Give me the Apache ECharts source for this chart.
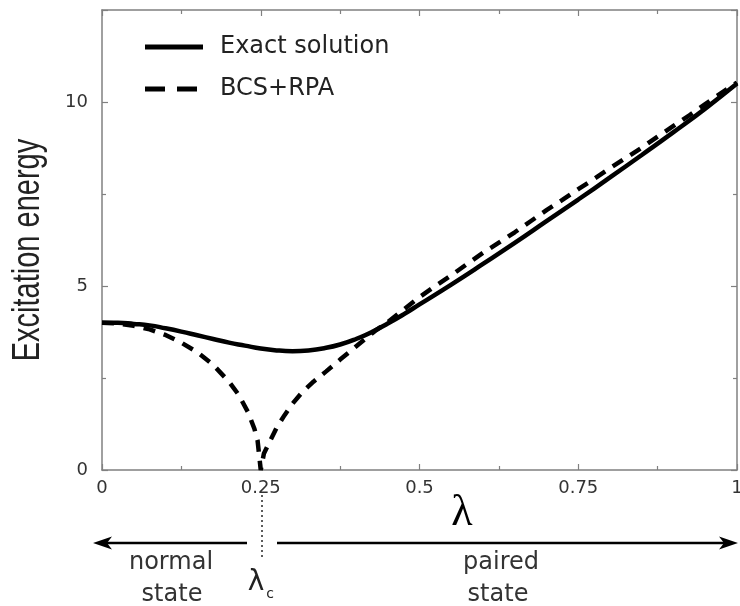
<!DOCTYPE html>
<html><head><meta charset="utf-8">
<script src="https://cdn.jsdelivr.net/npm/echarts@6/dist/echarts.min.js"></script>
<style>html,body{margin:0;padding:0;background:#fff;overflow:hidden}#c{width:740px;height:606px}</style>
</head><body><div id="c"></div>
<script>
// ---- data ----
const lambdaExact = [0,0.025,0.05,0.075,0.1,0.125,0.15,0.175,0.2,0.225,0.25,0.275,0.3,0.325,0.35,0.375,0.4,0.425,0.45,0.475,0.5,0.55,0.6,0.65,0.7,0.75,0.8,0.85,0.9,0.95,1.0];
const exactValues = [4.00,4.00,3.97,3.93,3.85,3.76,3.66,3.56,3.46,3.38,3.30,3.25,3.23,3.25,3.31,3.41,3.56,3.75,3.98,4.23,4.50,5.04,5.60,6.17,6.76,7.35,7.95,8.56,9.18,9.82,10.50];
const lambdaBcs = [0,0.025,0.05,0.075,0.1,0.125,0.15,0.175,0.2,0.215,0.23,0.24,0.245,0.25,0.255,0.265,0.275,0.2875,0.3,0.316,0.333,0.353,0.375,0.39,0.41,0.43,0.45,0.475,0.5,0.525,0.55,0.575,0.6,0.625,0.65,0.675,0.7,0.725,0.75,0.775,0.8,0.825,0.85,0.875,0.9,0.925,0.95,0.975,1.0];
const bcsValues = [4.00,3.98,3.92,3.82,3.67,3.46,3.20,2.86,2.40,2.05,1.57,1.12,0.80,0.00,0.45,0.80,1.15,1.49,1.80,2.13,2.40,2.68,3.00,3.21,3.50,3.78,4.02,4.36,4.70,5.00,5.29,5.60,5.90,6.18,6.46,6.76,7.06,7.34,7.63,7.91,8.20,8.48,8.76,9.06,9.35,9.64,9.94,10.24,10.53];
const xTicks = [0,0.25,0.5,0.75,1];
const yTicks = [0,5,10];
const seriesNames = ['Exact solution','BCS+RPA'];

const FONT = '"DejaVu Sans", "Liberation Sans", sans-serif';
const AXC = '#808080';
const chart = echarts.init(document.getElementById('c'));

const exactData = lambdaExact.map((x,i)=>[x,exactValues[i]]);
const bcsData = lambdaBcs.map((x,i)=>[x,bcsValues[i]]);

function axisCommon(){
  return {
    axisLine:{show:true,onZero:false,lineStyle:{color:AXC,width:1.5}},
    axisTick:{show:true,inside:true,length:6,lineStyle:{color:AXC,width:1.2}},
    minorTick:{show:true,splitNumber:2,length:4,lineStyle:{color:AXC,width:1.2}},
    splitLine:{show:false},
    minorSplitLine:{show:false}
  };
}

chart.setOption({
  backgroundColor:'#fff',
  animation:false,
  grid:{left:102,right:3,top:10,bottom:136,containLabel:false,outerBoundsMode:'none'},
  xAxis:[
    Object.assign({type:'value',min:0,max:1,interval:0.25,position:'bottom',
      axisLabel:{show:true,margin:9,fontFamily:FONT,fontSize:18,color:'#333',
        formatter:v=> xTicks.indexOf(v)>=0 ? String(v) : ''}}, axisCommon()),
    Object.assign({type:'value',min:0,max:1,interval:0.25,position:'top',
      axisLabel:{show:false}}, axisCommon())
  ],
  yAxis:[
    Object.assign({type:'value',min:0,max:12.5,interval:5,position:'left',
      axisLabel:{show:true,margin:14,fontFamily:FONT,fontSize:18,color:'#333',showMaxLabel:false,
        formatter:v=> yTicks.indexOf(v)>=0 ? String(v) : ''}}, axisCommon()),
    Object.assign({type:'value',min:0,max:12.5,interval:5,position:'right',
      axisLabel:{show:false}}, axisCommon())
  ],
  series:[
    {name:seriesNames[0],type:'line',data:exactData,smooth:true,showSymbol:false,
      lineStyle:{color:'#000',width:4.5},z:3},
    {name:seriesNames[1],type:'line',data:bcsData,smooth:false,showSymbol:false,
      lineStyle:{color:'#000',width:4.5,type:[12,9]},z:2}
  ],
  graphic:[
    // y axis title
    {type:'text',x:28,y:250,rotation:Math.PI/2,scaleX:1,scaleY:1.33,style:{text:'Excitation energy',x:0,y:0,align:'center',verticalAlign:'middle',font:'29px "Liberation Sans", Arial, sans-serif',fill:'#222'}},
    // legend
    {type:'line',shape:{x1:145,y1:47,x2:203,y2:47},style:{stroke:'#000',lineWidth:5}},
    {type:'text',style:{text:seriesNames[0],x:220,y:47,verticalAlign:'middle',font:'24px '+FONT,fill:'#222'}},
    {type:'line',shape:{x1:145,y1:89,x2:197,y2:89},style:{stroke:'#000',lineWidth:5,lineDash:[20,12]}},
    {type:'text',style:{text:seriesNames[1],x:220,y:89,verticalAlign:'middle',font:'24px '+FONT,fill:'#222'}},
    // lambda axis title
    {type:'text',style:{text:'λ',x:462,y:513,align:'center',verticalAlign:'middle',font:'44px "Liberation Serif", serif',fill:'#000'}},
    // arrows
    {type:'line',shape:{x1:100,y1:543,x2:247,y2:543},style:{stroke:'#000',lineWidth:2.5}},
    {type:'polygon',shape:{points:[[93,543],[112,536.5],[107,543],[112,549.5]]},style:{fill:'#000'}},
    {type:'line',shape:{x1:277,y1:543,x2:731,y2:543},style:{stroke:'#000',lineWidth:2.5}},
    {type:'polygon',shape:{points:[[738,543],[719,536.5],[724,543],[719,549.5]]},style:{fill:'#000'}},
    // dotted critical line
    {type:'line',shape:{x1:262,y1:495,x2:262,y2:557},style:{stroke:'#333',lineWidth:1.6,lineDash:[2,3]}},
    // region labels
    {type:'text',style:{text:'normal',x:171,y:563,align:'center',verticalAlign:'middle',font:'24px '+FONT,fill:'#333'}},
    {type:'text',style:{text:'state',x:172,y:595,align:'center',verticalAlign:'middle',font:'24px '+FONT,fill:'#333'}},
    {type:'text',style:{text:'paired',x:501,y:563,align:'center',verticalAlign:'middle',font:'24px '+FONT,fill:'#333'}},
    {type:'text',style:{text:'state',x:498,y:595,align:'center',verticalAlign:'middle',font:'24px '+FONT,fill:'#333'}},
    {type:'text',style:{text:'λ',x:256,y:583,align:'center',verticalAlign:'middle',font:'28px '+FONT,fill:'#222'}},
    {type:'text',style:{text:'c',x:270,y:594,align:'center',verticalAlign:'middle',font:'14px '+FONT,fill:'#222'}}
  ]
});
</script>
</body></html>
